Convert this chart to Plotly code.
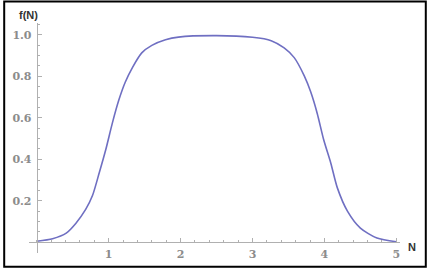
import plotly.graph_objects as go

# Data
n_values = [0.0, 0.22, 0.41, 0.545, 0.68, 0.775, 0.87, 0.96, 1.05, 1.14, 1.23, 1.33,
            1.46, 1.60, 1.79, 1.97, 2.5, 3.0, 3.26, 3.44, 3.58, 3.72, 3.81, 3.90,
            3.99, 4.09, 4.18, 4.32, 4.50, 4.73, 5.0]
f_values = [0.005, 0.017, 0.044, 0.092, 0.158, 0.225, 0.336, 0.447, 0.573, 0.684, 0.771, 0.842,
            0.913, 0.949, 0.976, 0.989, 0.996, 0.988, 0.972, 0.937, 0.890, 0.802, 0.724, 0.621,
            0.494, 0.380, 0.262, 0.150, 0.068, 0.020, 0.002]
x_ticks = [1, 2, 3, 4, 5]
x_tick_labels = ["1", "2", "3", "4", "5"]
y_ticks = [0.2, 0.4, 0.6, 0.8, 1.0]
y_tick_labels = ["0.2", "0.4", "0.6", "0.8", "1.0"]
x_label = "N"
y_label = "f(N)"

W, H = 427, 273
L, R, T, B = 26, 27, 23, 16
pw, ph = W - L - R, H - T - B

def px_x(p):
    return (p - L) / pw

def px_y(p):
    return (H - B - p) / ph

axis_col = "#b0b0b0"
tick_font = dict(family="DejaVu Serif", size=11, color="#8c8c8c", weight="bold")

fig = go.Figure()
fig.add_trace(go.Scatter(
    x=n_values, y=f_values, mode="lines",
    line=dict(color="#6f6fc2", width=1.6, shape="spline", smoothing=0.7),
    hoverinfo="skip", showlegend=False,
))

fig.update_layout(
    width=W, height=H,
    margin=dict(l=L, r=R, t=T, b=B, pad=0),
    paper_bgcolor="white", plot_bgcolor="white",
    xaxis=dict(
        range=[-0.108, 5.051], showgrid=False, zeroline=False,
        showline=True, linecolor=axis_col, linewidth=1,
        anchor="free", position=px_y(246),
        tickmode="array", tickvals=x_ticks, ticktext=x_tick_labels,
        ticks="inside", ticklen=4, tickcolor=axis_col, tickwidth=1,
        ticklabelstandoff=2,
        minor=dict(tickmode="linear", tick0=0, dtick=0.2, ticks="inside",
                   ticklen=2, tickcolor=axis_col, tickwidth=1),
        tickfont=tick_font,
    ),
    yaxis=dict(
        range=[-0.052, 1.057], showgrid=False, zeroline=False,
        showline=True, linecolor=axis_col, linewidth=1,
        anchor="free", position=px_x(33.8),
        tickmode="array", tickvals=y_ticks, ticktext=y_tick_labels,
        ticks="inside", ticklen=4, tickcolor=axis_col, tickwidth=1,
        ticklabelstandoff=3,
        minor=dict(tickmode="linear", tick0=0, dtick=0.05, ticks="inside",
                   ticklen=2, tickcolor=axis_col, tickwidth=1),
        tickfont=tick_font,
    ),
    shapes=[dict(type="rect", xref="paper", yref="paper",
                 x0=px_x(1), x1=px_x(426), y0=px_y(271), y1=px_y(1),
                 line=dict(color="black", width=2), fillcolor="rgba(0,0,0,0)",
                 layer="above")],
    annotations=[
        dict(text="<b>" + y_label + "</b>", xref="paper", yref="paper",
             x=px_x(25.5), y=px_y(15), xanchor="center", yanchor="middle",
             showarrow=False, font=dict(family="Liberation Sans", size=11, color="#333333")),
        dict(text="<b>" + x_label + "</b>", xref="paper", yref="paper",
             x=px_x(412), y=px_y(251), xanchor="center", yanchor="middle",
             showarrow=False, font=dict(family="Liberation Sans", size=11, color="#333333")),
    ],
)

fig.write_html("out.html")
